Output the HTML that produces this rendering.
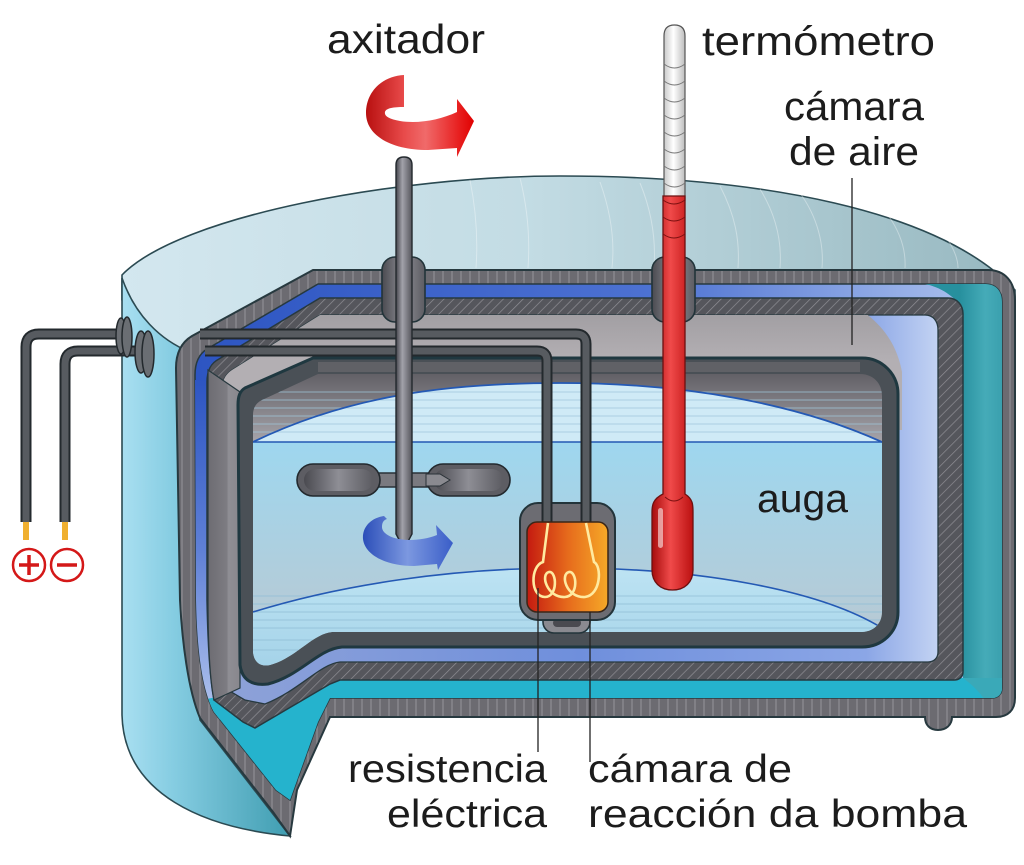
<!DOCTYPE html>
<html><head><meta charset="utf-8"><style>
html,body{margin:0;padding:0;background:#fff;}
svg{display:block;}
text{font-family:"Liberation Sans",Arial,sans-serif;fill:#1c1c1c;}
</style></head><body>
<svg width="1024" height="865" viewBox="0 0 1024 865" xmlns="http://www.w3.org/2000/svg">
<defs>
<linearGradient id="lidG" x1="122" y1="0" x2="1015" y2="0" gradientUnits="userSpaceOnUse">
<stop offset="0" stop-color="#d3e7ef"/><stop offset="0.45" stop-color="#c3dce4"/><stop offset="1" stop-color="#97b8c0"/></linearGradient>
<linearGradient id="sideG" x1="122" y1="0" x2="290" y2="0" gradientUnits="userSpaceOnUse">
<stop offset="0" stop-color="#a9dff1"/><stop offset="0.3" stop-color="#86cde2"/><stop offset="1" stop-color="#3f9db1"/></linearGradient>
<pattern id="stripes" width="9" height="9" patternUnits="userSpaceOnUse"><rect width="9" height="9" fill="#6c6b71"/><line x1="2" y1="0" x2="2" y2="9" stroke="#96949a" stroke-width="1"/></pattern>
<pattern id="hatch" width="7" height="7" patternUnits="userSpaceOnUse" patternTransform="rotate(45)"><rect width="7" height="7" fill="#55565c"/><line x1="0" y1="0" x2="0" y2="7" stroke="#8e8e94" stroke-width="1.4"/></pattern>
<linearGradient id="insG" x1="195" y1="0" x2="960" y2="0" gradientUnits="userSpaceOnUse">
<stop offset="0" stop-color="#2d55c2"/><stop offset="0.6" stop-color="#4d72d2"/><stop offset="1" stop-color="#a6bdec"/></linearGradient>
<linearGradient id="insLeft" x1="0" y1="380" x2="0" y2="720" gradientUnits="userSpaceOnUse">
<stop offset="0" stop-color="#2d55c2"/><stop offset="0.5" stop-color="#5f80d6"/><stop offset="1" stop-color="#b4c6ee"/></linearGradient>
<linearGradient id="tealG" x1="960" y1="0" x2="1002" y2="0" gradientUnits="userSpaceOnUse">
<stop offset="0" stop-color="#27909e"/><stop offset="0.6" stop-color="#45abb8"/><stop offset="1" stop-color="#3aa0ae"/></linearGradient>
<linearGradient id="airB" x1="222" y1="0" x2="938" y2="0" gradientUnits="userSpaceOnUse">
<stop offset="0" stop-color="#8ea2d8"/><stop offset="0.5" stop-color="#6f8fdc"/><stop offset="0.9" stop-color="#8ba6e6"/><stop offset="1" stop-color="#c3d3f3"/></linearGradient>
<linearGradient id="airGray" x1="0" y1="315" x2="0" y2="360" gradientUnits="userSpaceOnUse">
<stop offset="0" stop-color="#a29fa3"/><stop offset="1" stop-color="#b3afb3"/></linearGradient>
<linearGradient id="leftFace" x1="207" y1="0" x2="240" y2="0" gradientUnits="userSpaceOnUse">
<stop offset="0" stop-color="#6c6b71"/><stop offset="0.6" stop-color="#7d7c82"/><stop offset="0.65" stop-color="#8f8e94"/><stop offset="1" stop-color="#88878d"/></linearGradient>
<linearGradient id="backG" x1="0" y1="374" x2="0" y2="445" gradientUnits="userSpaceOnUse">
<stop offset="0" stop-color="#626066"/><stop offset="1" stop-color="#a9a7ad"/></linearGradient>
<linearGradient id="waterG" x1="0" y1="442" x2="0" y2="640" gradientUnits="userSpaceOnUse">
<stop offset="0" stop-color="#9ed7ef"/><stop offset="1" stop-color="#b9c9d3"/></linearGradient>
<linearGradient id="floorG" x1="0" y1="568" x2="0" y2="690" gradientUnits="userSpaceOnUse">
<stop offset="0" stop-color="#bde3f3"/><stop offset="1" stop-color="#9fcfe6"/></linearGradient>
<linearGradient id="metal" x1="0" y1="0" x2="1" y2="0">
<stop offset="0" stop-color="#45454c"/><stop offset="0.4" stop-color="#a2a2aa"/><stop offset="1" stop-color="#55555c"/></linearGradient>
<linearGradient id="paddle" x1="0" y1="0" x2="1" y2="0">
<stop offset="0" stop-color="#4a4a50"/><stop offset="0.5" stop-color="#8e8e95"/><stop offset="1" stop-color="#5c5c62"/></linearGradient>
<linearGradient id="orange" x1="527" y1="0" x2="608" y2="0" gradientUnits="userSpaceOnUse">
<stop offset="0" stop-color="#c41a10"/><stop offset="0.5" stop-color="#e66a1c"/><stop offset="1" stop-color="#f6a928"/></linearGradient>
<linearGradient id="redT" x1="0" y1="0" x2="1" y2="0">
<stop offset="0" stop-color="#a50c0c"/><stop offset="0.45" stop-color="#f04a4a"/><stop offset="1" stop-color="#bb1010"/></linearGradient>
<linearGradient id="whiteT" x1="0" y1="0" x2="1" y2="0">
<stop offset="0" stop-color="#c9c9c9"/><stop offset="0.45" stop-color="#ffffff"/><stop offset="1" stop-color="#bdbdbd"/></linearGradient>
<linearGradient id="redA" x1="366" y1="0" x2="474" y2="0" gradientUnits="userSpaceOnUse">
<stop offset="0" stop-color="#b81010"/><stop offset="0.35" stop-color="#e84a4a"/><stop offset="0.55" stop-color="#f06a6a"/><stop offset="0.85" stop-color="#e82222"/><stop offset="1" stop-color="#e00000"/></linearGradient>
<linearGradient id="blueA" x1="362" y1="0" x2="453" y2="0" gradientUnits="userSpaceOnUse">
<stop offset="0" stop-color="#2a4db8"/><stop offset="0.5" stop-color="#7c98e0"/><stop offset="1" stop-color="#3a5ec8"/></linearGradient>
<clipPath id="clipL2"><path d="M195,375 C195,362 199,354 207,349 L318,284 L985,284 C996,284 1002,291 1002,302 L1002,688 C1002,694 998,698 992,698 L330,698 L318,722 L290,800 L276,790 L214,712 C202,690 197,650 196,600 Z"/></clipPath>
<clipPath id="clipL4"><path d="M222,390 C222,380 226,374 232,370 L320,315 L925,315 C933,315 938,321 938,330 L938,652 C938,658 934,662 928,662 L340,662 C320,664 300,690 265,704 L245,700 L228,690 C224,660 222,630 222,600 Z"/></clipPath>
<clipPath id="clipL6"><path d="M253,415 C253,408 256,403 262,400 L318,374 L860,374 C873,374 882,383 882,396 L882,612 C882,624 873,632 861,632 L332,632 C312,634 296,658 270,665 C260,667 254,662 253,652 Z"/></clipPath>
</defs>

<!-- lid and cylinder side -->
<path d="M122,275 C180,215 400,176 560,176 C760,176 940,210 1015,290 L1015,330 L180,365 L122,300 Z" fill="url(#lidG)" stroke="#2b4a52" stroke-width="1.6"/>
<g stroke="#ffffff" stroke-opacity="0.35" stroke-width="1" fill="none">
<path d="M600,182 C610,210 615,240 612,268"/><path d="M640,183 C652,212 656,240 654,268"/><path d="M720,186 C735,215 740,240 738,268"/><path d="M760,189 C776,215 782,242 780,268"/><path d="M800,193 C818,218 824,245 822,268"/><path d="M880,205 C900,228 906,250 905,268"/><path d="M930,218 C950,238 958,256 958,268"/><path d="M520,178 C528,210 530,240 528,268"/><path d="M470,180 C476,210 478,240 476,268"/>
</g>
<path d="M122,278 C135,315 160,340 190,352 L200,720 L290,836 C205,828 124,795 122,715 Z" fill="url(#sideG)" stroke="#2b4a52" stroke-width="1.6"/>

<!-- L1 outer wall -->
<path d="M176,368 C176,352 182,342 192,336 L313,270 L988,270 C1005,270 1015,282 1015,300 L1015,698 C1015,710 1008,717 996,717 L952,717 C952,725 946,730 938,730 C930,730 925,725 925,717 L330,717 L297,790 L290,836 L273,812 L200,718 C188,690 182,640 180,600 Z" fill="url(#stripes)" stroke="#27393f" stroke-width="2"/>

<!-- L2 insulation -->
<path d="M195,375 C195,362 199,354 207,349 L318,284 L985,284 C996,284 1002,291 1002,302 L1002,688 C1002,694 998,698 992,698 L330,698 L318,722 L290,800 L276,790 L214,712 C202,690 197,650 196,600 Z" fill="url(#insG)" stroke="#27393f" stroke-width="1.5"/>
<g clip-path="url(#clipL2)">
<rect x="190" y="380" width="30" height="340" fill="url(#insLeft)"/>
<path d="M925,284 L1010,284 L1010,700 L963,700 L963,310 C955,296 940,287 925,284 Z" fill="url(#tealG)"/>
<path d="M200,700 L330,678 L1010,678 L1010,720 L330,720 L300,820 L200,760 Z" fill="#25b3cd"/>
<path d="M963,678 L1010,678 L1010,700 L985,700 C978,690 970,683 963,678 Z" fill="#3aa9b8"/>
</g>

<!-- L3 hatched wall -->
<path d="M207,382 C207,370 211,363 219,359 L320,298 L948,298 C957,298 963,305 963,314 L963,672 C963,677 959,680 954,680 L340,680 L330,684 L255,728 L243,722 L214,700 C210,680 208,650 207,600 Z" fill="url(#hatch)" stroke="#27393f" stroke-width="1.5"/>

<!-- L4 air chamber -->
<path d="M222,390 C222,380 226,374 232,370 L320,315 L925,315 C933,315 938,321 938,330 L938,652 C938,658 934,662 928,662 L340,662 C320,664 300,690 265,704 L245,700 L228,690 C224,660 222,630 222,600 Z" fill="url(#airB)" stroke="#27393f" stroke-width="1.3"/>
<g clip-path="url(#clipL4)">
<path d="M200,300 L845,300 C878,318 896,340 902,372 L902,430 L200,430 Z" fill="url(#airGray)"/>
</g>
<!-- left faces (gray) -->
<path d="M208,370 L240,392 L240,688 L214,700 C210,680 208,650 208,600 Z" fill="url(#leftFace)" stroke="#27393f" stroke-width="1.2"/>

<!-- L5 inner container -->
<path d="M238,405 C238,396 240,391 245,388 L313,358 L862,358 C882,358 898,374 898,394 L898,612 C898,632 882,647 862,647 L342,647 C318,649 300,676 268,684 C252,686 242,680 240,665 Z" fill="#4a5056" stroke="#1f3840" stroke-width="3"/>
<path d="M318,362 L860,362 L860,372 L318,372 Z" fill="#6a686e" opacity="0.7"/>

<!-- L6 interior -->
<g clip-path="url(#clipL6)">
<rect x="240" y="370" width="660" height="80" fill="url(#backG)"/>
<rect x="240" y="442" width="660" height="240" fill="url(#waterG)"/>
<path d="M253,442 C350,395 450,383 560,383 C690,383 800,405 882,442 Z" fill="#cfeaf6"/>
<g stroke="#9fc6da" stroke-width="0.8">
<line x1="250" y1="392" x2="890" y2="392"/><line x1="250" y1="400" x2="890" y2="400"/><line x1="250" y1="408" x2="890" y2="408"/><line x1="250" y1="416" x2="890" y2="416"/><line x1="250" y1="424" x2="890" y2="424"/><line x1="250" y1="432" x2="890" y2="432"/>
</g>
<path d="M253,442 C350,395 450,383 560,383 C690,383 800,405 882,442" fill="none" stroke="#2459b4" stroke-width="1.8"/>
<line x1="250" y1="442" x2="890" y2="442" stroke="#2459b4" stroke-width="1.4"/>
<path d="M253,612 C340,585 450,568 565,568 C700,568 820,590 882,628 L882,700 L240,700 Z" fill="url(#floorG)"/>
<g stroke="#8fbcd4" stroke-width="0.7">
<line x1="250" y1="596" x2="890" y2="596"/><line x1="250" y1="604" x2="890" y2="604"/><line x1="250" y1="612" x2="890" y2="612"/><line x1="250" y1="620" x2="890" y2="620"/><line x1="250" y1="628" x2="890" y2="628"/><line x1="250" y1="640" x2="890" y2="640"/><line x1="250" y1="650" x2="890" y2="650"/>
</g>
<path d="M253,612 C340,585 450,568 565,568 C700,568 820,590 882,628" fill="none" stroke="#2459b4" stroke-width="1.6"/>
</g>

<!-- wires outside -->
<g fill="none" stroke-linecap="butt">
<path d="M26,522 L26,347 Q26,334 39,334 L122,334" stroke="#23292d" stroke-width="11"/>
<path d="M26,522 L26,347 Q26,334 39,334 L122,334" stroke="#575b60" stroke-width="7"/>
<path d="M65,522 L65,364 Q65,351 78,351 L142,351" stroke="#23292d" stroke-width="11"/>
<path d="M65,522 L65,364 Q65,351 78,351 L142,351" stroke="#575b60" stroke-width="7"/>
<!-- wires inside -->
<path d="M200,334 L576,334 Q586,334 586,344 L586,524" stroke="#23292d" stroke-width="11"/>
<path d="M200,334 L576,334 Q586,334 586,344 L586,524" stroke="#575b60" stroke-width="7"/>
<path d="M205,351 L537,351 Q547,351 547,361 L547,524" stroke="#23292d" stroke-width="11"/>
<path d="M205,351 L537,351 Q547,351 547,361 L547,524" stroke="#575b60" stroke-width="7"/>
</g>
<rect x="23" y="522" width="6" height="18" fill="#f0b030"/>
<rect x="62" y="522" width="6" height="18" fill="#f0b030"/>
<!-- grommets -->
<g stroke="#23292d" stroke-width="1.5" fill="#6a6e73">
<ellipse cx="121" cy="336" rx="5" ry="18"/><ellipse cx="127" cy="337" rx="5" ry="20"/>
<ellipse cx="141" cy="352" rx="6" ry="21"/><ellipse cx="148" cy="354" rx="6" ry="23"/>
</g>
<!-- plus minus -->
<g stroke="#d41818" fill="#fff" stroke-width="2.5">
<circle cx="29" cy="565" r="16"/><circle cx="67" cy="565" r="16"/>
</g>
<g stroke="#d41818" stroke-width="3.5">
<line x1="19" y1="565" x2="39" y2="565"/><line x1="29" y1="555" x2="29" y2="575"/>
<line x1="57" y1="565" x2="77" y2="565"/>
</g>

<!-- glands -->
<rect x="382" y="257" width="43" height="65" rx="13" fill="url(#paddle)" stroke="#22343a" stroke-width="1.6"/>
<rect x="652" y="257" width="43" height="65" rx="13" fill="url(#paddle)" stroke="#22343a" stroke-width="1.6"/>

<!-- paddles -->
<path d="M376,473 L438,473 L450,480 L438,487 L376,487 Z" fill="#7a7a80" stroke="#2b3238" stroke-width="1.4"/>
<rect x="297" y="464" width="83" height="32" rx="16" fill="#5d5d63" stroke="#23292e" stroke-width="1.6"/>
<rect x="304" y="469" width="69" height="22" rx="11" fill="url(#paddle)"/>
<rect x="427" y="464" width="83" height="32" rx="16" fill="#5d5d63" stroke="#23292e" stroke-width="1.6"/>
<rect x="434" y="469" width="69" height="22" rx="11" fill="url(#paddle)"/>
<path d="M426,474 L440,474 L450,480 L440,486 L426,486 Z" fill="#8a8a90" stroke="#2b3238" stroke-width="1"/>

<!-- rod -->
<path d="M396,165 Q396,157 404,157 Q412,157 412,165 L412,534 L404,549 L396,534 Z" fill="url(#metal)" stroke="#23292e" stroke-width="1.4"/>

<!-- bomb -->
<rect x="543" y="606" width="47" height="27" rx="11" fill="#8a8a90" stroke="#23343a" stroke-width="1.6"/>
<rect x="553" y="619" width="28" height="8" rx="4" fill="#4a4a50"/>
<rect x="520" y="503" width="95" height="117" rx="18" fill="#6c6c72" stroke="#23343a" stroke-width="2"/>
<g fill="none" stroke-linecap="butt">
<line x1="547" y1="500" x2="547" y2="524" stroke="#23292d" stroke-width="11"/><line x1="547" y1="500" x2="547" y2="524" stroke="#575b60" stroke-width="7"/>
<line x1="586" y1="500" x2="586" y2="524" stroke="#23292d" stroke-width="11"/><line x1="586" y1="500" x2="586" y2="524" stroke="#575b60" stroke-width="7"/>
</g>
<rect x="527" y="522" width="81" height="90" rx="10" fill="url(#orange)" stroke="#3a2618" stroke-width="1.5"/>
<path d="M548,523 L543,562 C530,566 530,597 545,597 C558,597 557,571 549,572 C540,574 547,598 565,597 C579,596 577,571 569,572 C560,574 566,598 585,597 C601,595 602,566 594,562 L586,523" fill="none" stroke="#ffeaa0" stroke-width="2.6"/>

<!-- thermometer -->
<path d="M664,190 L664,36 Q664,25 674.5,25 Q685,25 685,36 L685,200 L664,200 Z" fill="url(#whiteT)" stroke="#555" stroke-width="1.2"/>
<g fill="none" stroke="#777" stroke-width="0.9">
<path d="M664,64 Q674.5,72 685,64"/><path d="M664,81 Q674.5,89 685,81"/><path d="M664,98 Q674.5,106 685,98"/><path d="M664,115 Q674.5,123 685,115"/><path d="M664,132 Q674.5,140 685,132"/><path d="M664,149 Q674.5,157 685,149"/><path d="M664,166 Q674.5,174 685,166"/><path d="M664,183 Q674.5,191 685,183"/>
</g>
<path d="M663,196 L685,196 L685,494 C693,499 693,505 693,512 L693,570 C693,582 685,590 672.5,590 C660,590 652,582 652,570 L652,512 C652,505 653,499 663,494 Z" fill="url(#redT)" stroke="#6d1010" stroke-width="1.3"/>
<g fill="none" stroke="#7a1010" stroke-width="0.9">
<path d="M663,200 Q674,208 685,200"/><path d="M663,217 Q674,225 685,217"/><path d="M663,234 Q674,242 685,234"/>
</g>
<path d="M665,497 Q674,505 683,497" fill="none" stroke="#7a1010" stroke-width="1"/>
<rect x="658" y="508" width="5" height="40" rx="2.5" fill="#fff" opacity="0.55"/>

<!-- arrows -->
<path d="M404,75 C382,76 366,92 366,113 C366,136 392,150 428,150 L457,148 L457,157 L474,121 L457,99 L457,112 C440,120 418,124 400,121 C389,119 384,116 385,112 C386,108 394,107 404,107 Z" fill="url(#redA)"/>
<path d="M384,516 C370,518 362,528 363,539 C365,556 388,566 414,566 L437,564 L438,570 L453,543 L436,525 L437,535 C424,540 410,541 399,539 C388,537 382,532 382,527 C382,522 384,520 387,519 Z" fill="url(#blueA)"/>

<!-- label lines -->
<g stroke="#222" stroke-width="1.3">
<line x1="852" y1="178" x2="852" y2="345"/>
<line x1="538" y1="588" x2="538" y2="752"/>
<line x1="590" y1="612" x2="590" y2="762"/>
</g>

<!-- labels -->
<text x="327" y="53" font-size="41" textLength="158" lengthAdjust="spacingAndGlyphs">axitador</text>
<text x="702" y="55" font-size="41" textLength="233" lengthAdjust="spacingAndGlyphs">termómetro</text>
<text x="784" y="120" font-size="40" textLength="140" lengthAdjust="spacingAndGlyphs">cámara</text>
<text x="789" y="165" font-size="40" textLength="130" lengthAdjust="spacingAndGlyphs">de aire</text>
<text x="757" y="512" font-size="40" textLength="91" lengthAdjust="spacingAndGlyphs">auga</text>
<text x="348" y="782" font-size="39" textLength="199" lengthAdjust="spacingAndGlyphs">resistencia</text>
<text x="387" y="827" font-size="39" textLength="160" lengthAdjust="spacingAndGlyphs">eléctrica</text>
<text x="588" y="782" font-size="39" textLength="204" lengthAdjust="spacingAndGlyphs">cámara de</text>
<text x="588" y="827" font-size="39" textLength="379" lengthAdjust="spacingAndGlyphs">reacción da bomba</text>
</svg>
</body></html>
